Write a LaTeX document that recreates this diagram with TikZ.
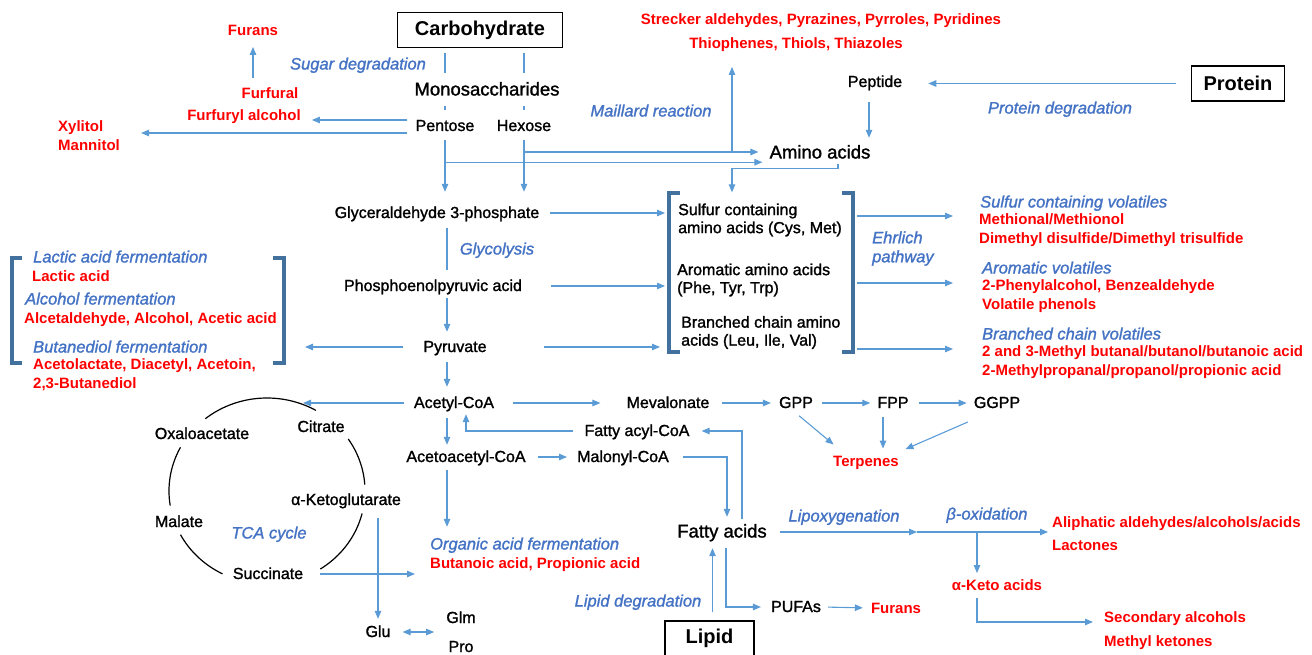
\documentclass[tikz,border=0pt]{standalone}
\usepackage{fontspec}
\setmainfont{Liberation Sans}
\newfontfamily\medfont{Liberation Sans}[FakeBold=1.4]
\usetikzlibrary{arrows.meta,calc}
\definecolor{vred}{HTML}{FF0000}
\definecolor{pblue}{HTML}{4472C4}
\definecolor{lblue}{HTML}{5B9BD5}
\definecolor{dblue}{HTML}{41719C}

\begin{document}
\begin{tikzpicture}[x=1pt,y=-1pt,
    lbl/.style={font=\medfont\fontsize{16}{18}\selectfont, inner sep=2pt, text height=13pt, text depth=3pt},
    big/.style={font=\medfont\fontsize{18.5}{22}\selectfont, inner sep=2pt, text height=16pt, text depth=3pt},
    prod/.style={text=vred, font=\bfseries\fontsize{15}{19}\selectfont, inner sep=1pt, text height=13.5pt, text depth=3pt},
    path/.style={text=pblue, font=\medfont\itshape\fontsize{16.5}{19}\selectfont, inner sep=2pt, text height=14pt, text depth=3pt},
    multi/.style={align=left, text height=, text depth=},
    src/.style={draw, line width=1.3pt, font=\bfseries\fontsize{20}{24}\selectfont, minimum height=35pt, inner sep=0pt},
    arr/.style={draw=lblue, line width=1.1pt, -{Triangle[length=8pt,width=6.5pt]}},
    dbl/.style={draw=lblue, line width=1.1pt, {Triangle[length=8pt,width=6.5pt]}-{Triangle[length=8pt,width=6.5pt]}},
    ln/.style={draw=lblue, line width=1.1pt},
    brk/.style={draw=dblue, line width=3.5pt},
    cyc/.style={draw=black, line width=1.2pt}]
    \useasboundingbox (0,0) rectangle (1312,655);

    % Carbohydrate
    \node[src, minimum width=165pt] (carb) at (480,30) {Carbohydrate};
    \node[big] (mono) at (487,89) {Monosaccharides};
    \node[lbl] (pent) at (445,126) {Pentose};
    \node[lbl] (hex) at (524,126) {Hexose};
    \node[path] (sugar) at (358,64) {Sugar degradation};
    \node[prod] (furanT) at (253,30) {Furans};
    \node[prod] (furfural) at (270,93) {Furfural};
    \node[prod] (furfuryl) at (244,115) {Furfuryl alcohol};
    \node[prod, multi, anchor=west] (polyol) at (57,136) {Xylitol\\Mannitol};
    \draw[ln, shorten <=4.5pt, shorten >=4.5pt] (pent |- carb.south) -- (pent |- mono.north);
    \draw[ln, shorten <=4.5pt, shorten >=4.5pt] (hex |- carb.south) -- (hex |- mono.north);
    \draw[ln, shorten <=5.5pt, shorten >=6pt] (pent |- mono.south) -- (pent.north);
    \draw[ln, shorten <=5.5pt, shorten >=6pt] (hex |- mono.south) -- (hex.north);
    \draw[arr, shorten <=5.5pt, shorten >=7.5pt] (furfural.north -| furanT) -- (furanT.south);
    \draw[arr, shorten <=6pt, shorten >=10pt] ([yshift=6pt]pent.west) -- ([yshift=6pt]pent.west -| furfuryl.east);
    \draw[arr, shorten <=6pt, shorten >=20pt] ([yshift=-7pt]pent.west) -- ([yshift=-7pt]pent.west -| polyol.east);

    % Maillard reaction
    \node[prod] (strk1) at (821,19) {Strecker aldehydes, Pyrazines, Pyrroles, Pyridines};
    \node[prod] (strk2) at (796,43) {Thiophenes, Thiols, Thiazoles};
    \node[path] (maill) at (651,111) {Maillard reaction};
    \node[big] (amino) at (820,152) {Amino acids};
    \coordinate (mjoin) at (732,152);
    \coordinate (aminoIn) at ([yshift=1.5pt]amino.south west);
    \draw[arr, shorten >=5pt] (pent.south |- aminoIn) -- (aminoIn);
    \draw[arr, shorten >=9pt] (hex.south |- amino.west) -- (amino.west);
    \draw[arr, shorten >=14.5pt] (mjoin) -- (mjoin |- strk2.south);

    % Protein
    \node[src, minimum width=93pt] (prot) at (1238,83.5) {Protein};
    \node[lbl] (pept) at (875,82) {Peptide};
    \node[path] (protdeg) at (1060,108) {Protein degradation};
    \draw[arr, shorten <=14.5pt, shorten >=24pt] (prot.west) -- (prot.west -| pept.east);
    \draw[arr, shorten <=10pt, shorten >=2.5pt] ([xshift=-6pt]pept.south) -- ([xshift=-6pt]pept.south |- amino.north);

    % Glycolysis
    \coordinate (colA) at (447,0);
    \node[lbl] (glyc) at (437,213) {Glyceraldehyde 3-phosphate};
    \node[lbl] (pep) at (433,286) {Phosphoenolpyruvic acid};
    \node[lbl] (pyr) at (455,347) {Pyruvate};
    \node[path] (glycol) at (497,249) {Glycolysis};
    \draw[arr, shorten <=4pt, shorten >=11pt] (pent.south) -- (pent.south |- glyc.north);
    \draw[arr, shorten <=4pt, shorten >=11pt] (hex.south) -- (hex.south |- glyc.north);
    \draw[ln, shorten <=5pt, shorten >=6pt] (glyc.south -| colA) -- (pep.north -| colA);
    \draw[arr, shorten <=2pt, shorten >=5pt] (pep.south -| colA) -- (pyr.north -| colA);

    % Amino acids bracket
    \coordinate (aaTL) at (669,193);
    \coordinate (aaBL) at (669,352);
    \coordinate (aaTR) at (853,193);
    \coordinate (aaBR) at (853,352);
    \draw[brk] ([xshift=11pt]aaTL) -- (aaTL) -- (aaBL) -- ([xshift=11pt]aaBL);
    \draw[brk] ([xshift=-11pt]aaTR) -- (aaTR) -- (aaBR) -- ([xshift=-11pt]aaBR);
    \node[lbl, multi, anchor=west] (sulf) at (676,220) {Sulfur containing\\amino acids (Cys, Met)};
    \node[lbl, multi, anchor=west] (arom) at (675,280) {Aromatic amino acids\\(Phe, Tyr, Trp)};
    \node[lbl, multi, anchor=west] (bcaa) at (679,332.5) {Branched chain amino\\acids (Leu, Ile, Val)};
    \draw[arr, shorten <=9pt, shorten >=11pt] (glyc.east) -- (glyc.east -| sulf.west);
    \draw[arr, shorten <=27pt, shorten >=11pt] (pep.east) -- (pep.east -| sulf.west);
    \draw[arr, shorten <=55pt, shorten >=16pt] (pyr.east) -- (pyr.east -| sulf.west);
    \draw[arr, shorten >=9pt] ([xshift=18pt]amino.south) -- ++(0,5) -| (mjoin |- sulf.north);

    % Ehrlich pathway
    \node[path, multi, anchor=west] (ehr) at (870,248.5) {Ehrlich\\pathway};
    \node[path, anchor=west] (svolt) at (978,202) {Sulfur containing volatiles};
    \node[prod, multi, anchor=west] (svol) at (978,230) {Methional/Methionol\\Dimethyl disulfide/Dimethyl trisulfide};
    \node[path, anchor=west] (avolt) at (980,268) {Aromatic volatiles};
    \node[prod, multi, anchor=west] (avol) at (981,296.5) {2-Phenylalcohol, Benzealdehyde\\Volatile phenols};
    \node[path, anchor=west] (bvolt) at (980,334) {Branched chain volatiles};
    \node[prod, multi, anchor=west] (bvol) at (981,362.5) {2 and 3-Methyl butanal/butanol/butanoic acid\\2-Methylpropanal/propanol/propionic acid};
    \coordinate (ehr1) at ([yshift=-3pt]glyc.east -| aaTR);
    \coordinate (ehr2) at ([yshift=3pt]pep.east -| aaTR);
    \coordinate (ehr3) at ([yshift=-2pt]pyr.east -| aaTR);
    \draw[arr, shorten <=4pt, shorten >=25pt] (ehr1) -- (ehr1 -| svol.west);
    \draw[arr, shorten <=4pt, shorten >=25pt] (ehr2) -- (ehr2 -| svol.west);
    \draw[arr, shorten <=4pt, shorten >=25pt] (ehr3) -- (ehr3 -| svol.west);

    % Fermentation bracket
    \coordinate (ferTL) at (12,258);
    \coordinate (ferBL) at (12,363);
    \coordinate (ferTR) at (284,258);
    \coordinate (ferBR) at (284,363);
    \draw[brk] ([xshift=10pt]ferTL) -- (ferTL) -- (ferBL) -- ([xshift=10pt]ferBL);
    \draw[brk] ([xshift=-11pt]ferTR) -- (ferTR) -- (ferBR) -- ([xshift=-11pt]ferBR);
    \node[path, anchor=west] (lactt) at (31,257) {Lactic acid fermentation};
    \node[prod, anchor=west] (lact) at (31,276) {Lactic acid};
    \node[path, anchor=west] (alct) at (23,299) {Alcohol fermentation};
    \node[prod, anchor=west] (alc) at (23,318) {Alcetaldehyde, Alcohol, Acetic acid};
    \node[path, anchor=west] (butt) at (31,347) {Butanediol fermentation};
    \node[prod, multi, anchor=west] (but) at (32,375) {Acetolactate, Diacetyl, Acetoin,\\2,3-Butanediol};
    \draw[arr, shorten <=18pt, shorten >=21pt] (pyr.west) -- (pyr.west -| ferTR);

    % TCA cycle
    \node[lbl] (cit) at (321,427) {Citrate};
    \node[lbl] (oxa) at (202,434) {Oxaloacetate};
    \node[lbl] (akg) at (346,500) {α-Ketoglutarate};
    \node[lbl] (mal) at (179,522) {Malate};
    \node[lbl] (suc) at (268,574) {Succinate};
    \node[path] (tca) at (269,533) {TCA cycle};
    \foreach \a/\b in {-129/-60,-34/-4,14/57,117/152,171/208}
        \draw[cyc] plot[domain=\a:\b, samples=40] ({267+98*cos(\x)},{491+93*sin(\x)});
    \coordinate (cycin) at (303,403);

    % Acetyl-CoA
    \node[lbl] (acet) at (454,403) {Acetyl-CoA};
    \node[lbl] (acac) at (466,457) {Acetoacetyl-CoA};
    \node[path, anchor=west] (orgt) at (428,544) {Organic acid fermentation};
    \node[prod, anchor=west] (orga) at (429,563) {Butanoic acid, Propionic acid};
    \node[lbl] (glu) at (378,632) {Glu};
    \node[lbl] (glm) at (461,618) {Glm};
    \node[lbl] (pro) at (461,647) {Pro};
    \draw[arr, shorten <=5pt, shorten >=6pt] (pyr.south -| colA) -- (acet.north -| colA);
    \draw[arr, shorten <=8pt] (acet.west) -- (cycin);
    \draw[arr, shorten <=5pt, shorten >=2pt] (acet.south -| colA) -- (acac.north -| colA);
    \draw[arr, shorten <=3pt, shorten >=6.5pt] (acac.south -| colA) -- (orgt.north -| colA);
    \draw[arr, shorten <=15pt, shorten >=14pt] (suc.east) -- (suc.east -| orga.west);
    \draw[arr, shorten <=8pt, shorten >=3pt] (glu.north |- akg.south) -- (glu.north);
    \draw[dbl, shorten <=10pt, shorten >=10pt] (glu.east) -- (glu.east -| glm.west);

    % Terpenes
    \node[lbl] (meva) at (668,403) {Mevalonate};
    \node[lbl] (gpp) at (796,403) {GPP};
    \node[lbl] (fpp) at (893,403) {FPP};
    \node[lbl] (ggpp) at (997,403) {GGPP};
    \node[prod] (terp) at (866,461) {Terpenes};
    \draw[arr, shorten <=17pt, shorten >=24pt] (acet.east) -- (meva.west);
    \draw[arr, shorten <=10pt, shorten >=6pt] (meva.east) -- (gpp.west);
    \draw[arr, shorten <=7pt, shorten >=5pt] (gpp.east) -- (fpp.west);
    \draw[arr, shorten <=8pt, shorten >=5pt] (fpp.east) -- (ggpp.west);
    \draw[arr, shorten <=4pt, shorten >=11pt] (gpp.south) -- ([xshift=-24pt]terp.north);
    \draw[arr, shorten <=4pt, shorten >=3pt] ([xshift=-10pt]fpp.south) -- ([xshift=-10pt]fpp.south |- terp.north);
    \draw[arr, shorten <=22pt, shorten >=6pt] ([xshift=-9pt]ggpp.south) -- (terp.north east);

    % Lipid
    \node[lbl] (facoa) at (637,431) {Fatty acyl-CoA};
    \node[lbl] (malo) at (623,457) {Malonyl-CoA};
    \node[big] (fa) at (722,531) {Fatty acids};
    \node[src, minimum width=89pt] (lipid) at (709.5,638.5) {Lipid};
    \node[path] (lipdeg) at (638,601) {Lipid degradation};
    \node[lbl] (pufa) at (796,607) {PUFAs};
    \node[prod] (furanB) at (896,608) {Furans};
    \draw[arr, shorten <=9pt, shorten >=1pt] (facoa.west) -| ([xshift=12pt]acet.south);
    \draw[arr, shorten >=10pt] ([xshift=20pt]fa.north) |- (facoa.east);
    \draw[arr, shorten <=10pt, shorten >=8pt] (acac.east) -- (malo.west);
    \draw[arr, shorten <=12pt, shorten >=2.5pt] (malo.east) -| ([xshift=5pt]fa.north);
    \draw[arr, shorten <=8pt, shorten >=5.5pt] ([xshift=3pt]lipid.north) -- ([xshift=3pt]lipid.north |- fa.south);
    \draw[arr, shorten <=5.5pt, shorten >=8pt] ([xshift=4pt]fa.south) |- (pufa.west);
    \draw[arr, shorten <=5pt, shorten >=7pt] (pufa.east) -- (furanB.west);

    % Lipoxygenation and beta-oxidation
    \node[path] (lipox) at (844,516) {Lipoxygenation};
    \node[path] (boxi) at (987,514) {β-oxidation};
    \node[prod, multi, anchor=west] (aliph) at (1051,533.5) {Aliphatic aldehydes/alcohols/acids\\[4pt]Lactones};
    \node[prod] (keto) at (997,585) {α-Keto acids};
    \node[prod, multi, anchor=west] (sec) at (1103,631) {Secondary alcohols\\[5pt]Methyl ketones};
    \coordinate (loxend) at (917,532);
    \draw[arr, shorten <=11pt] (fa.east |- loxend) -- (loxend);
    \draw[arr, shorten >=3pt] (loxend) -- (loxend -| aliph.west);
    \draw[arr, shorten >=2.5pt] ([xshift=-20pt]keto.north |- loxend) -- ([xshift=-20pt]keto.north);
    \draw[arr, shorten <=4pt, shorten >=10pt] ([xshift=-20pt]keto.south) |- ([yshift=9pt]sec.west);
\end{tikzpicture}
\end{document}
